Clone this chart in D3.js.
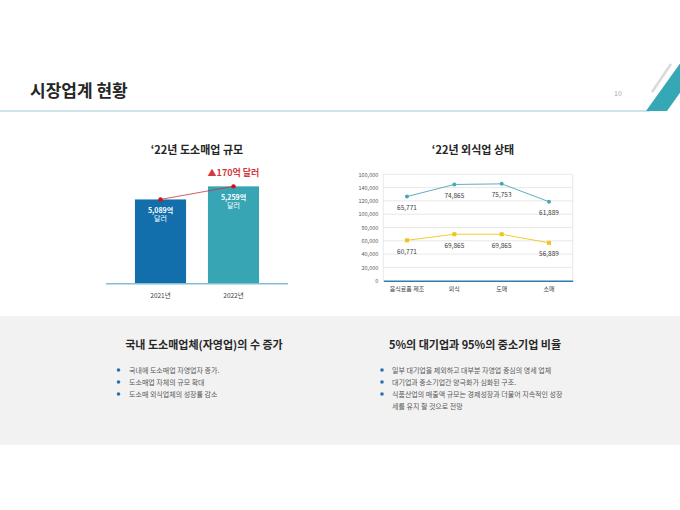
<!DOCTYPE html>
<html>
<head>
<meta charset="utf-8">
<script src="https://cdn.jsdelivr.net/npm/d3@7"></script>
<style>
  body { margin: 0; background: #fff; }
  svg { display: block; font-family: "Noto Sans CJK KR", "Noto Sans", sans-serif; }
</style>
</head>
<body>
<script>
'use strict';

// bar chart data
const years = ['2021년', '2022년'];
const sales = [5089, 5259];
const salesLabels = ['5,089억', '5,259억'];
const growthLabel = '▲170억 달러';

// line chart data
const sectors = ['음식료품 제조', '외식', '도매', '소매'];
const seriesA = [60771, 69865, 69865, 56889];
const seriesB = [65771, 74865, 75753, 61889];
const yTicks = [0, 20000, 40000, 60000, 80000, 100000, 120000, 140000, 160000];

const leftBullets = ['국내에 도소매업 자영업자 증가.', '도소매업 자체의 규모 확대', '도소매 외식업체의 성장률 감소'];
const rightBullets = ['일부 대기업을 제외하고 대부분 자영업 중심의 영세 업체', '대기업과 중소기업간 양극화가 심화된 구조.', '식품산업의 매출액 규모는 경제성장과 더불어 지속적인 성장'];
const rightCont = '세를 유지 할 것으로 전망';

const W = 680, H = 510;
const svg = d3.select('body').append('svg').attr('width', W).attr('height', H);

// page header
svg.append('text').attr('x', 30).attr('y', 97)
  .attr('font-size', 17).attr('font-weight', 700).attr('fill', '#262626')
  .text('시장업계 현황');
svg.append('line').attr('x1', 0).attr('x2', 650).attr('y1', 111).attr('y2', 111)
  .attr('stroke', '#9ccbd6').attr('stroke-width', 1.2);
svg.append('text').attr('x', 618).attr('y', 96).attr('text-anchor', 'middle')
  .attr('font-size', 7).attr('fill', '#a6a6a6').text('10');
svg.append('polygon').attr('points', '646,111 667,111 702,62 681,62').attr('fill', '#36a8b5');
svg.append('line').attr('x1', 652).attr('y1', 92).attr('x2', 671).attr('y2', 64)
  .attr('stroke', '#d9d9d9').attr('stroke-width', 2.5);

// gray band
svg.append('rect').attr('x', 0).attr('y', 316).attr('width', W).attr('height', 129).attr('fill', '#f2f2f2');

// ---- bar chart ----
svg.append('text').attr('x', 197).attr('y', 154).attr('text-anchor', 'middle')
  .attr('font-size', 11).attr('font-weight', 700).attr('fill', '#262626')
  .text('‘22년 도소매업 규모');

const xb = d3.scaleBand().domain(years).range([124, 270]).paddingInner(0.3).paddingOuter(0.15);
const yb = d3.scaleLinear().domain([4000, 5600]).range([283.3, 160.1]);
const barColors = ['#126fab', '#38a5b4'];

const bars = svg.append('g');
bars.selectAll('rect').data(years).join('rect')
  .attr('x', d => xb(d)).attr('width', xb.bandwidth())
  .attr('y', (d, i) => yb(sales[i])).attr('height', (d, i) => yb(4000) - yb(sales[i]))
  .attr('fill', (d, i) => barColors[i]);

bars.selectAll('text.v').data(years).join('text').attr('class', 'v')
  .attr('x', d => xb(d) + xb.bandwidth() / 2).attr('y', (d, i) => yb(sales[i]) + 13.5)
  .attr('text-anchor', 'middle').attr('font-size', 7).attr('font-weight', 700).attr('fill', '#fff')
  .text((d, i) => salesLabels[i]);
bars.selectAll('text.u').data(years).join('text').attr('class', 'u')
  .attr('x', d => xb(d) + xb.bandwidth() / 2).attr('y', (d, i) => yb(sales[i]) + 22)
  .attr('text-anchor', 'middle').attr('font-size', 7).attr('fill', '#fff')
  .text('달러');

svg.append('line').attr('x1', 106).attr('x2', 288).attr('y1', 283.8).attr('y2', 283.8)
  .attr('stroke', '#84bfd0').attr('stroke-width', 1.5);

bars.selectAll('text.c').data(years).join('text').attr('class', 'c')
  .attr('x', d => xb(d) + xb.bandwidth() / 2).attr('y', 297.5)
  .attr('text-anchor', 'middle').attr('font-size', 6.5).attr('fill', '#404040')
  .text(d => d);

const growthPts = years.map((d, i) => [xb(d) + xb.bandwidth() / 2, yb(sales[i])]);
svg.append('path').attr('d', d3.line()(growthPts)).attr('stroke', '#c9323a').attr('stroke-width', 0.8).attr('fill', 'none');
svg.selectAll('circle.g').data(growthPts).join('circle').attr('class', 'g')
  .attr('cx', d => d[0]).attr('cy', d => d[1]).attr('r', 2.2).attr('fill', '#d0101d');
svg.append('text').attr('x', growthPts[1][0]).attr('y', growthPts[1][1] - 10)
  .attr('text-anchor', 'middle').attr('font-size', 9).attr('font-weight', 700).attr('fill', '#d23a40')
  .text(growthLabel);

// ---- line chart ----
svg.append('text').attr('x', 473).attr('y', 154).attr('text-anchor', 'middle')
  .attr('font-size', 11).attr('font-weight', 700).attr('fill', '#262626')
  .text('‘22년 외식업 상태');

const x0 = 383.3, x1 = 572.7, yTop = 174.3, yBot = 280.7;
const xl = d3.scaleBand().domain(sectors).range([x0, x1]);
const yl = d3.scaleLinear().domain([0, 160000]).range([yBot, yTop]);
const cx = d => xl(d) + xl.bandwidth() / 2;

const grid = svg.append('g');
grid.selectAll('line').data(yTicks.slice(1)).join('line')
  .attr('x1', x0).attr('x2', x1).attr('y1', d => yl(d)).attr('y2', d => yl(d))
  .attr('stroke', '#d9d9d9').attr('stroke-width', 0.6);
grid.append('line').attr('x1', x0).attr('x2', x0).attr('y1', yTop).attr('y2', yBot).attr('stroke', '#d9d9d9').attr('stroke-width', 0.6);
grid.append('line').attr('x1', x1).attr('x2', x1).attr('y1', yTop).attr('y2', yBot).attr('stroke', '#d9d9d9').attr('stroke-width', 0.6);

const yAxis = svg.append('g').attr('transform', `translate(${x0},0)`)
  .call(d3.axisLeft(yl).tickValues(yTicks).tickSize(0).tickPadding(5).tickFormat(d3.format(',')));
yAxis.select('.domain').remove();
yAxis.selectAll('text').attr('font-size', 5.5).attr('fill', '#595959').attr('font-family', '"Noto Sans CJK KR", sans-serif');

const xAxis = svg.append('g').attr('transform', `translate(0,${yBot})`)
  .call(d3.axisBottom(xl).tickSize(0).tickPadding(6));
xAxis.select('.domain').attr('stroke', '#2f7bb0').attr('stroke-width', 1.5);
xAxis.selectAll('text').attr('font-size', 6).attr('fill', '#404040').attr('font-family', '"Noto Sans CJK KR", sans-serif');

const stacked = d3.stack().keys(['a', 'b'])(sectors.map((s, i) => ({ a: seriesA[i], b: seriesB[i] })));
const lineColors = ['#f2c31d', '#4ba6b9'];
const labels = [seriesA, seriesB];

stacked.forEach((layer, k) => {
  const pts = layer.map((d, i) => [cx(sectors[i]), yl(d[1])]);
  svg.append('path').attr('d', d3.line()(pts)).attr('fill', 'none')
    .attr('stroke', lineColors[k]).attr('stroke-width', 0.9);
  if (k === 0) {
    svg.selectAll(null).data(pts).join('rect')
      .attr('x', d => d[0] - 2).attr('y', d => d[1] - 2).attr('width', 4).attr('height', 4)
      .attr('fill', lineColors[k]);
  } else {
    svg.selectAll(null).data(pts).join('circle')
      .attr('cx', d => d[0]).attr('cy', d => d[1]).attr('r', 2).attr('fill', lineColors[k]);
  }
  svg.selectAll(null).data(pts).join('text')
    .attr('x', d => d[0]).attr('y', d => d[1] + 13.5)
    .attr('text-anchor', 'middle').attr('font-size', 6.5).attr('fill', '#404040')
    .text((d, i) => d3.format(',')(labels[k][i]));
});

// ---- bottom sections ----
svg.append('text').attr('x', 204).attr('y', 349).attr('text-anchor', 'middle')
  .attr('font-size', 11).attr('font-weight', 700).attr('fill', '#262626')
  .text('국내 도소매업체(자영업)의 수 증가');
svg.append('text').attr('x', 475).attr('y', 349).attr('text-anchor', 'middle')
  .attr('font-size', 11).attr('font-weight', 700).attr('fill', '#262626')
  .text('5%의 대기업과 95%의 중소기업 비율');

function bulletList(items, bx, tx) {
  const g = svg.append('g');
  g.selectAll('circle').data(items).join('circle')
    .attr('cx', bx).attr('cy', (d, i) => 370 + i * 12).attr('r', 1.8).attr('fill', '#2a6fb0');
  g.selectAll('text').data(items).join('text')
    .attr('x', tx).attr('y', (d, i) => 372.5 + i * 12)
    .attr('font-size', 7).attr('fill', '#595959').text(d => d);
}
bulletList(leftBullets, 118.5, 129);
bulletList(rightBullets, 382, 392);
svg.append('text').attr('x', 392).attr('y', 372.5 + 3 * 12)
  .attr('font-size', 7).attr('fill', '#595959').text(rightCont);
</script>
</body>
</html>
